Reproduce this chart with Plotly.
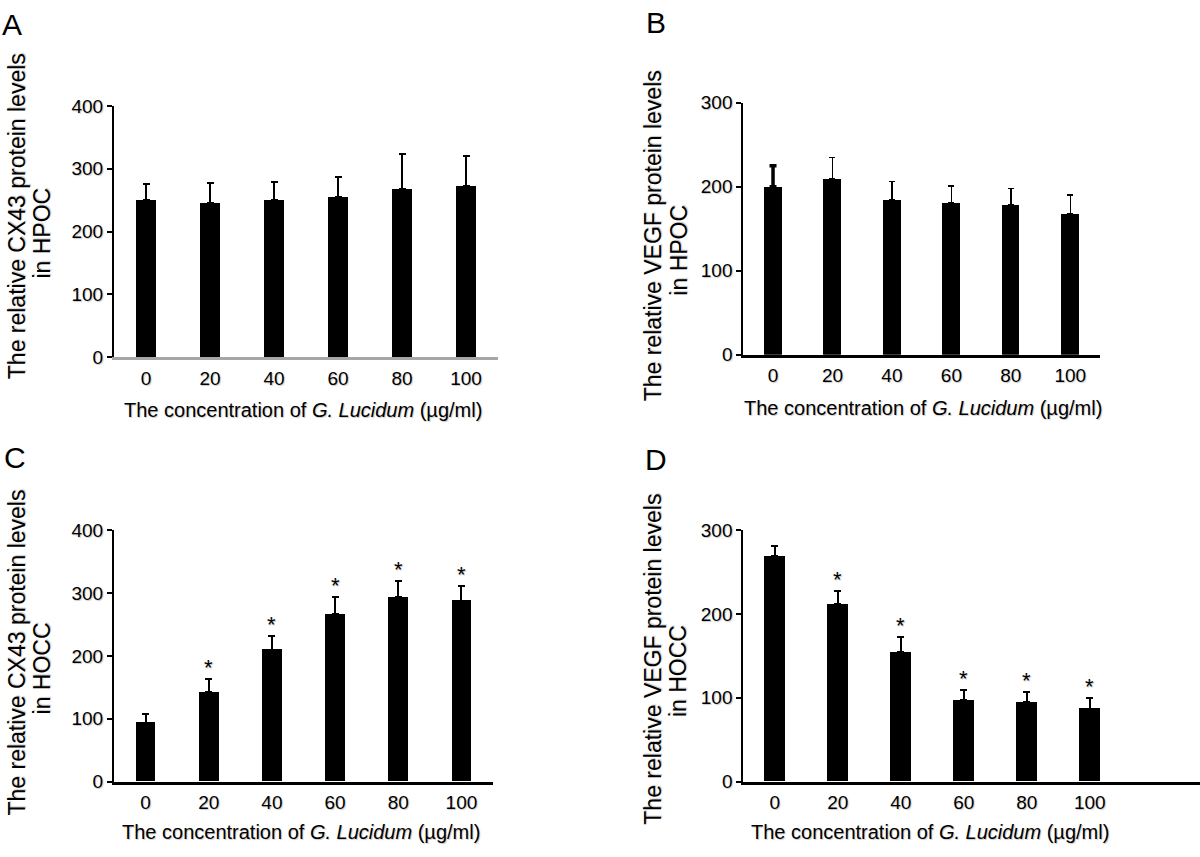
import plotly.graph_objects as go

# ---------------- data ----------------
conc = ["0", "20", "40", "60", "80", "100"]

cx43_hpoc = [250, 245, 250, 255, 268, 272]
cx43_hpoc_err = [25, 33, 29, 32, 56, 49]

vegf_hpoc = [200, 209, 185, 181, 179, 168]
vegf_hpoc_err = [25, 26, 21, 20, 19, 22]

cx43_hocc = [94, 142, 210, 267, 294, 288]
cx43_hocc_err = [13, 22, 21, 26, 25, 24]

vegf_hocc = [269, 212, 155, 97, 95, 87]
vegf_hocc_err = [12, 15, 18, 12, 12, 13]

sig_hocc = [False, True, True, True, True, True]

panel_letters = ["A", "B", "C", "D"]
ytitles_l1 = ["The relative CX43 protein levels", "The relative VEGF protein levels",
              "The relative CX43 protein levels", "The relative VEGF protein levels"]
ytitles_l2 = ["in HPOC", "in HPOC", "in HOCC", "in HOCC"]
xtitle = "The concentration of <i>G. Lucidum</i> (\u00b5g/ml)"

FONT = "Liberation Sans, Arial, Helvetica, sans-serif"
SHADOW = "1px 1px 1px #c8c8c8"
W, H = 1200, 857

def px(x):
    return x / W

def py(y):
    return 1 - y / H

def font(size):
    return dict(family=FONT, size=size, color="black", shadow=SHADOW)

fig = go.Figure()

panels = [
    dict(vals=cx43_hpoc, err=cx43_hpoc_err, xa="x", ya="y", width=0.31, eth=2, ew=3.5, sig=None),
    dict(vals=vegf_hpoc, err=vegf_hpoc_err, xa="x2", ya="y2", width=0.30, eth=1.5, ew=3, sig=None),
    dict(vals=cx43_hocc, err=cx43_hocc_err, xa="x3", ya="y3", width=0.31, eth=2, ew=3.5, sig=sig_hocc),
    dict(vals=vegf_hocc, err=vegf_hocc_err, xa="x4", ya="y4", width=0.33, eth=2, ew=3.5, sig=sig_hocc),
]

for p in panels:
    fig.add_trace(go.Bar(
        x=conc, y=p["vals"], xaxis=p["xa"], yaxis=p["ya"],
        width=p["width"], marker=dict(color="black", line=dict(width=0)),
        error_y=dict(type="data", array=p["err"], arrayminus=[0] * len(p["err"]),
                     symmetric=False, color="black", thickness=p["eth"], width=p["ew"]),
        showlegend=False, hoverinfo="skip",
    ))

# heavier error bar on the first bar of panel B (as in the original)
fig.add_trace(go.Scatter(
    x=conc[:1], y=vegf_hpoc[:1], xaxis="x2", yaxis="y2", mode="markers",
    marker=dict(size=1, opacity=0),
    error_y=dict(type="data", array=vegf_hpoc_err[:1], arrayminus=[0], symmetric=False,
                 color="black", thickness=3.5, width=3.5),
    showlegend=False, hoverinfo="skip",
))

annotations = []
for p in panels:
    if p["sig"] is None:
        continue
    for i, (v, e, s) in enumerate(zip(p["vals"], p["err"], p["sig"])):
        if s:
            annotations.append(dict(
                x=i, y=v + e, xref=p["xa"], yref=p["ya"], text="*",
                showarrow=False, yanchor="bottom", yshift=-3, font=font(22)))

# domains (paper)
dom = {
    "A": dict(x=[px(114), px(498)], y=[py(355.7), py(98.5)], rng=[-0.5, 5.5], ymax=400, xcol="#a6a6a6"),
    "B": dict(x=[px(743.3), px(1100)], y=[py(353.3), py(95)], rng=[-0.5, 5.5], ymax=300, xcol="black"),
    "C": dict(x=[px(114), px(493)], y=[py(791), py(533.3)], rng=[-0.5, 5.5], ymax=400, xcol="black"),
    "D": dict(x=[px(743.3), 1.0], y=[py(791), py(533.3)], rng=[-0.5, 6.75], ymax=300, xcol="black"),
}

layout = {}
for i, key in enumerate(["A", "B", "C", "D"]):
    d = dom[key]
    sfx = "" if i == 0 else str(i + 1)
    layout["xaxis" + sfx] = dict(
        domain=d["x"], anchor="y" + sfx, type="category", range=d["rng"],
        showline=True, linecolor=d["xcol"], linewidth=2.5, ticks="",
        showgrid=False, zeroline=False, fixedrange=True,
        tickfont=font(19), ticklabelstandoff=2,
    )
    layout["yaxis" + sfx] = dict(
        domain=d["y"], anchor="x" + sfx, range=[0, d["ymax"]], dtick=100,
        showline=True, linecolor="black", linewidth=2, ticks="outside",
        ticklen=5, tickwidth=2, tickcolor="black",
        showgrid=False, zeroline=False, fixedrange=True,
        tickfont=font(19),
    )

# panel letters
letter_pos = [(11.5, 15), (656, 13), (15, 459), (656, 461)]
for L, (lx, ly) in zip(panel_letters, letter_pos):
    annotations.append(dict(x=px(lx), y=py(ly), xref="paper", yref="paper", text=L,
                            showarrow=False, xanchor="center", yanchor="middle",
                            font=dict(family=FONT, size=30, color="black")))

# y titles
yt1 = [(16.7, 211.7), (653, 232), (16.7, 659), (653, 666)]
yt2 = [(41.7, 228.5), (679, 246.7), (42, 675), (678.7, 678)]
for t1, t2, (ax1, ay1), (ax2, ay2) in zip(ytitles_l1, ytitles_l2, yt1, yt2):
    annotations.append(dict(x=px(ax1), y=py(ay1), xref="paper", yref="paper", text=t1,
                            textangle=-90, showarrow=False, xanchor="center", yanchor="middle",
                            font=font(23)))
    annotations.append(dict(x=px(ax2), y=py(ay2), xref="paper", yref="paper", text=t2,
                            textangle=-90, showarrow=False, xanchor="center", yanchor="middle",
                            font=font(23)))

# x titles
xt = [(303, 410), (922.5, 408), (301, 843), (930, 843)]
for (ax, ay) in xt:
    annotations.append(dict(x=px(ax), y=py(ay), xref="paper", yref="paper", text=xtitle,
                            showarrow=False, xanchor="center", yanchor="middle",
                            font=font(20)))

fig.update_layout(
    width=W, height=H, margin=dict(l=0, r=0, t=0, b=0),
    paper_bgcolor="white", plot_bgcolor="white",
    bargap=0, barmode="overlay", annotations=annotations, **layout,
)

fig.write_html(
    "out.html",
    config={"displayModeBar": False},
    post_script="document.body.style.margin='0px';document.body.style.overflow='hidden';",
)
